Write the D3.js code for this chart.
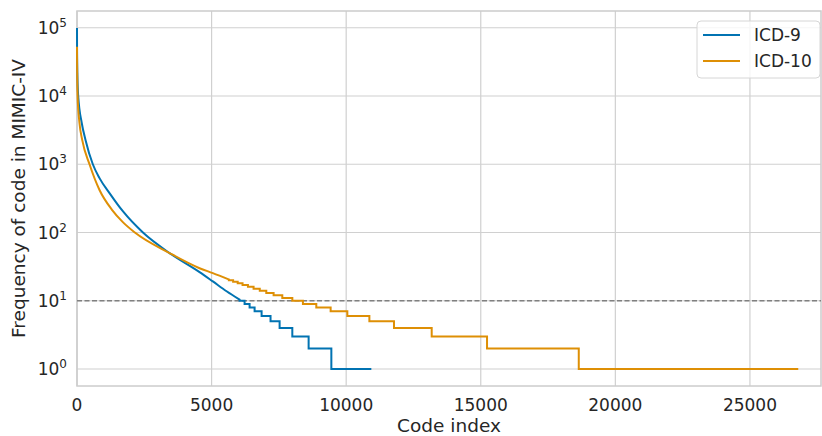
<!DOCTYPE html>
<html>
<head>
<meta charset="utf-8">
<script src="https://cdn.jsdelivr.net/npm/d3@7"></script>
<style>
  body { margin: 0; background: #fff; }
  text { font-family: "DejaVu Sans", sans-serif; fill: #262626; }
</style>
</head>
<body>
<script>
// sorted code frequencies
// smooth head: code index -> frequency
var icd9HeadRank = [0, 2, 15, 45, 178, 316, 588, 836, 1208, 1703, 2450, 3438, 4553, 5047, 5557, 6040];
var icd9HeadFreq = [99000, 50000, 20000, 10000, 3990, 2275, 1000, 626, 378, 205, 100, 50, 26.3, 19.2, 13.8, 10.4];
// step tail: integer frequency and the index where that level starts
var icd9TailFreq = [10, 9, 8, 7, 6, 5, 4, 3, 2, 1];
var icd9TailStart = [6040, 6226, 6412, 6598, 6858, 7190, 7527, 7999, 8605, 9449];
var icd9Count = 10935;

var icd10HeadRank = [0, 2, 8, 22, 93, 193, 465, 836, 1300, 1703, 2150, 3438, 4553, 5047, 5640];
var icd10HeadFreq = [52700, 35000, 20000, 10000, 3990, 2275, 1000, 420, 215, 142, 100, 50, 30, 25.4, 20.5];
var icd10TailFreq = [20, 19, 18, 17, 16, 15, 14, 13, 12, 11, 10, 9, 8, 7, 6, 5, 4, 3, 2, 1];
var icd10TailStart = [5640, 5800, 5970, 6150, 6350, 6560, 6790, 7032, 7304, 7627, 8000, 8393, 8890, 9423, 10043, 10862, 11776, 13177, 15233, 18641];
var icd10Count = 26795;

var seriesNames = ["ICD-9", "ICD-10"];
var seriesColors = ["#0173b2", "#de8f05"];
var xTicks = [0, 5000, 10000, 15000, 20000, 25000];
var yExponents = [0, 1, 2, 3, 4, 5];
var threshold = 10;

var W = 822, H = 436;
var margin = {top: 11, right: 1, bottom: 50, left: 77};
var width = W - margin.left - margin.right,
    height = H - margin.top - margin.bottom;

var x = d3.scaleLinear().domain([0, 27640]).range([0, width]);
var y = d3.scaleLog().domain([0.564, 176000]).range([height, 0]);

var svg = d3.select("body").append("svg")
    .attr("width", W)
    .attr("height", H);
var g = svg.append("g")
    .attr("transform", "translate(" + margin.left + "," + margin.top + ")");

// grid
g.selectAll(".xgrid").data(xTicks).enter().append("line")
    .attr("x1", function(d) { return x(d); }).attr("x2", function(d) { return x(d); })
    .attr("y1", 0).attr("y2", height)
    .attr("stroke", "#d0d0d0").attr("stroke-width", 1.2);
g.selectAll(".ygrid").data(yExponents).enter().append("line")
    .attr("x1", 0).attr("x2", width)
    .attr("y1", function(d) { return y(Math.pow(10, d)); })
    .attr("y2", function(d) { return y(Math.pow(10, d)); })
    .attr("stroke", "#d0d0d0").attr("stroke-width", 1.2);

// frame
g.append("rect")
    .attr("width", width).attr("height", height)
    .attr("fill", "none").attr("stroke", "#cccccc").attr("stroke-width", 1.5);

// threshold
g.append("line")
    .attr("x1", 0).attr("x2", width)
    .attr("y1", y(threshold)).attr("y2", y(threshold))
    .attr("stroke", "#808080").attr("stroke-width", 1.3)
    .attr("stroke-dasharray", "5,2.5");

var headLine = d3.line()
    .x(function(d) { return x(d[0]); })
    .y(function(d) { return y(d[1]); })
    .curve(d3.curveMonotoneX);
var tailLine = d3.line()
    .x(function(d) { return x(d[0]); })
    .y(function(d) { return y(d[1]); })
    .curve(d3.curveStepAfter);

function drawSeries(headRank, headFreq, tailFreq, tailStart, count, color) {
  var head = headRank.map(function(r, i) { return [r, headFreq[i]]; });
  var tail = tailStart.map(function(r, i) { return [r, tailFreq[i]]; });
  tail.push([count, tailFreq[tailFreq.length - 1]]);
  var d = headLine(head) + tailLine(tail).replace(/^M/, "L");
  g.append("path")
      .attr("d", d)
      .attr("fill", "none")
      .attr("stroke", color)
      .attr("stroke-width", 2)
      .attr("stroke-linejoin", "miter");
}

drawSeries(icd9HeadRank, icd9HeadFreq, icd9TailFreq, icd9TailStart, icd9Count, seriesColors[0]);
drawSeries(icd10HeadRank, icd10HeadFreq, icd10TailFreq, icd10TailStart, icd10Count, seriesColors[1]);

// x ticks
g.selectAll(".xtick").data(xTicks).enter().append("text")
    .attr("x", function(d) { return x(d); })
    .attr("y", height + 25)
    .attr("text-anchor", "middle")
    .style("font-size", "17px")
    .text(function(d) { return d; });

// y ticks as 10^n
var yt = g.selectAll(".ytick").data(yExponents).enter().append("text")
    .attr("x", -10)
    .attr("y", function(d) { return y(Math.pow(10, d)) + 6; })
    .attr("text-anchor", "end")
    .style("font-size", "17px");
yt.append("tspan").text("10");
yt.append("tspan")
    .attr("dy", -7)
    .style("font-size", "12px")
    .text(function(d) { return d; });

// axis labels
svg.append("text")
    .attr("x", margin.left + width / 2)
    .attr("y", 432)
    .attr("text-anchor", "middle")
    .style("font-size", "18.5px")
    .text("Code index");
svg.append("text")
    .attr("transform", "translate(25," + (margin.top + height / 2) + ") rotate(-90)")
    .attr("text-anchor", "middle")
    .style("font-size", "18.5px")
    .text("Frequency of code in MIMIC-IV");

// legend
var leg = svg.append("g").attr("transform", "translate(697,21)");
leg.append("rect")
    .attr("width", 123).attr("height", 57)
    .attr("rx", 4)
    .attr("fill", "#ffffff").attr("fill-opacity", 0.8)
    .attr("stroke", "#d6d6d6").attr("stroke-width", 1);
seriesNames.forEach(function(name, i) {
  var cy = 14 + i * 26;
  leg.append("line")
      .attr("x1", 6).attr("x2", 43)
      .attr("y1", cy).attr("y2", cy)
      .attr("stroke", seriesColors[i]).attr("stroke-width", 2);
  leg.append("text")
      .attr("x", 57).attr("y", cy + 6)
      .style("font-size", "17px")
      .text(name);
});
</script>
</body>
</html>
